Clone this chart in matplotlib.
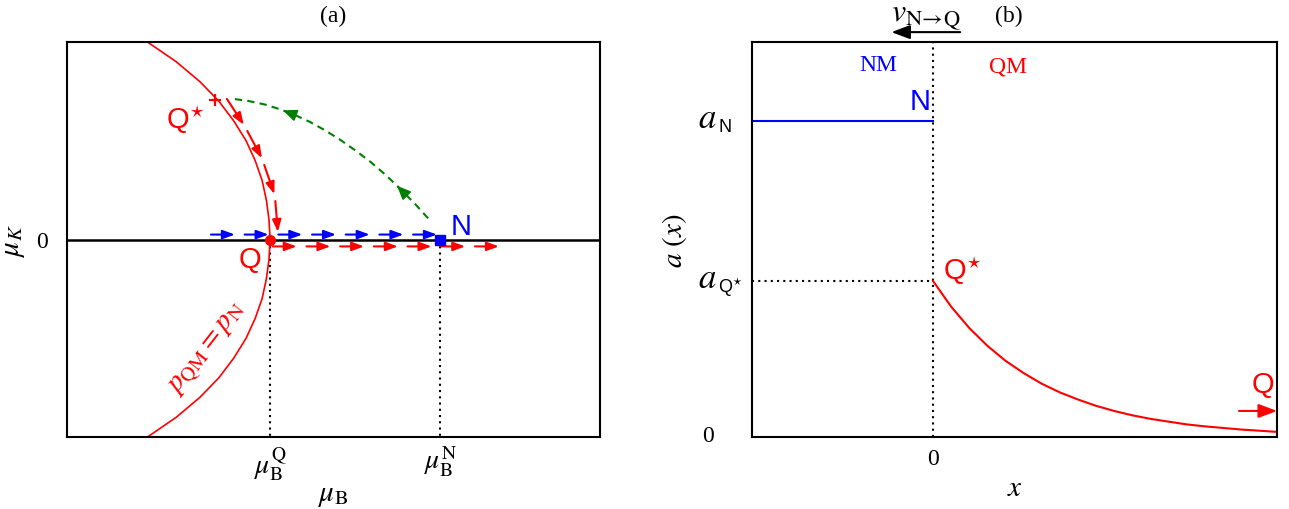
import numpy as np
import matplotlib
matplotlib.use('Agg')
import matplotlib.pyplot as plt

plt.rcParams['font.family'] = ['Liberation Serif', 'DejaVu Serif']
plt.rcParams['mathtext.fontset'] = 'stix'
SANS = ['Liberation Sans', 'DejaVu Sans']

# ---- panel (a): mu_B / mu_K plane ----
MU_B_Q = 0.381
MU_B_N = 0.700
QSTAR = (0.278, 0.707)

# p_QM = p_N line
coex_mu_K = [1.05, 1.0, 0.9, 0.8, 0.7, 0.6, 0.5, 0.4, 0.3, 0.2, 0.1, 0.0,
             -0.1, -0.2, -0.3, -0.4, -0.5, -0.6, -0.7, -0.8, -0.9, -1.0, -1.05]
coex_mu_B = [0.120, 0.151, 0.205, 0.249, 0.285, 0.313, 0.336, 0.353, 0.366, 0.374, 0.379, 0.381,
             0.379, 0.374, 0.366, 0.353, 0.336, 0.313, 0.285, 0.249, 0.205, 0.151, 0.120]

# Q* -> Q flow (red arrows along the line)
flow_mu_B = [0.300, 0.334, 0.366, 0.390, 0.396]
flow_mu_K = [0.712, 0.571, 0.409, 0.222, 0.025]

# N -> Q* path (green dashed)
green_mu_B = [0.315, 0.343, 0.372, 0.400, 0.428, 0.456, 0.484,
              0.512, 0.540, 0.569, 0.597, 0.625, 0.653, 0.681]
green_mu_K = [0.711, 0.700, 0.683, 0.659, 0.630, 0.595, 0.553,
              0.506, 0.453, 0.394, 0.329, 0.257, 0.180, 0.097]

blue_flow_B = [0.270, 0.694]
red_flow_B = [0.386, 0.812]

# ---- panel (b): a(x) profile ----
A_N = 0.80
A_QSTAR = 0.395
decay_x = [0.0, 0.1, 0.2, 0.3, 0.4, 0.5, 0.6, 0.7, 0.8, 0.9, 1.0,
           1.1, 1.2, 1.3, 1.4, 1.5, 1.6, 1.7, 1.8, 1.9]
decay_a = [0.395, 0.330, 0.276, 0.231, 0.193, 0.162, 0.135, 0.113, 0.095, 0.079, 0.066,
           0.055, 0.046, 0.039, 0.032, 0.027, 0.023, 0.019, 0.016, 0.013]

RED = '#ff0000'
BLUE = '#0000ff'
GREEN = '#007f00'


def dashed_arrows(ax, xs, ys, color, dash, gap, lw=1.5):
    """draw a path as a row of short arrows (lengths in pixels)"""
    pts = ax.transData.transform(np.column_stack([xs, ys]))
    seg = np.diff(pts, axis=0)
    cum = np.concatenate([[0], np.cumsum(np.hypot(seg[:, 0], seg[:, 1]))])
    inv = ax.transData.inverted()

    def at(s):
        return inv.transform((np.interp(s, cum, pts[:, 0]), np.interp(s, cum, pts[:, 1])))

    s = 0.0
    while s + dash <= cum[-1] + 0.5:
        ax.annotate('', xy=at(min(s + dash, cum[-1])), xytext=at(s),
                    arrowprops=dict(arrowstyle='-|>,head_length=0.6,head_width=0.22',
                                    color=color, lw=lw, shrinkA=0, shrinkB=0,
                                    mutation_scale=12))
        s += dash + gap


def head(ax, tip, tail, color):
    ax.annotate('', xy=tip, xytext=tail,
                arrowprops=dict(arrowstyle='-|>,head_length=0.7,head_width=0.3',
                                color=color, lw=1.2, shrinkA=0, shrinkB=0,
                                mutation_scale=12))


def ylab(ax, y, sub, dx=-35):
    """a with a sans-serif subscript, placed left of the y axis"""
    kw = dict(xycoords=('axes fraction', 'data'), textcoords='offset pixels',
              annotation_clip=False)
    ax.annotate(r'$a$', xy=(0, y), xytext=(dx, 2), ha='right', va='center',
                fontsize=25, **kw)
    ax.annotate(sub, xy=(0, y), xytext=(dx + 1, -6), ha='left', va='center',
                fontsize=13, family=SANS, **kw)


fig = plt.figure(figsize=(12.89, 5.10), dpi=100)
axa = fig.add_axes([67 / 1289, 72 / 510, 533 / 1289, 395 / 510])
axb = fig.add_axes([752 / 1289, 72 / 510, 525 / 1289, 395 / 510])

for ax in (axa, axb):
    for sp in ax.spines.values():
        sp.set_linewidth(1.5)
    ax.tick_params(length=0, labelsize=17)

# ---------------- (a) ----------------
axa.set_xlim(0, 1)
axa.set_ylim(-1, 1)
axa.axhline(0, color='k', lw=1.8, zorder=1)
axa.plot([MU_B_Q, MU_B_Q], [0, -1], color='k', lw=1.5, ls=(0, (1, 2)))
axa.plot([MU_B_N, MU_B_N], [0, -1], color='k', lw=1.5, ls=(0, (1, 2)))
axa.plot(coex_mu_B, coex_mu_K, color=RED, lw=1.2)
axa.plot(green_mu_B, green_mu_K, color=GREEN, lw=1.5, ls=(0, (3.5, 2.5)))
head(axa, (0.405, 0.654), (0.424, 0.634), GREEN)
head(axa, (0.619, 0.272), (0.632, 0.237), GREEN)

dashed_arrows(axa, flow_mu_B, flow_mu_K, RED, 31, 7)
dashed_arrows(axa, blue_flow_B, [0.025, 0.025], BLUE, 24, 9.7)
dashed_arrows(axa, red_flow_B, [-0.035, -0.035], RED, 24, 9.7)

axa.plot(*QSTAR, marker='+', ms=9, mew=1.6, color=RED, zorder=5)
axa.plot(MU_B_Q, 0, marker='o', ms=7, color=RED, zorder=5)
axa.plot(MU_B_N, 0, marker='s', ms=6.5, color=BLUE, zorder=5)

axa.text(0.259, 0.615, r'Q$^{\star}$', color=RED, fontsize=21, family=SANS,
         ha='right', va='center')
axa.text(0.739, 0.068, 'N', color=BLUE, fontsize=21, family=SANS, ha='center', va='center')
axa.text(0.343, -0.099, 'Q', color=RED, fontsize=21, family=SANS, ha='center', va='center')
axa.text(0.265, -0.554, r'$p_{\rm QM}=p_{\rm N}$', color=RED, fontsize=21,
         rotation=52, ha='center', va='center')

axa.set_xticks([MU_B_Q, MU_B_N])
axa.set_xticklabels([r'$\mu_{\rm B}^{\rm Q}$', r'$\mu_{\rm B}^{\rm N}$'], fontsize=20)
axa.set_yticks([0])
axa.set_yticklabels(['0'])
axa.tick_params(axis='y', pad=14)
axa.tick_params(axis='x', pad=5)
axa.set_xlabel(r'$\mu_{\rm B}$', fontsize=21, labelpad=0)
axa.set_ylabel(r'$\mu_K$', fontsize=21, labelpad=6)
axa.set_title('(a)', fontsize=17, pad=15)

# ---------------- (b) ----------------
axb.set_xlim(-1, 1.9)
axb.set_ylim(0, 1)
axb.plot([0, 0], [0, 1], color='k', lw=1.5, ls=(0, (1, 2)))
axb.plot([-1, 0], [A_QSTAR, A_QSTAR], color='k', lw=1.5, ls=(0, (1, 2)))
axb.plot([-1, 0], [A_N, A_N], color=BLUE, lw=1.5)
axb.plot(decay_x, decay_a, color=RED, lw=1.5)

axb.text(-0.304, 0.944, 'NM', color=BLUE, fontsize=17, ha='center', va='center')
axb.text(0.414, 0.939, 'QM', color=RED, fontsize=17, ha='center', va='center')
axb.text(-0.072, 0.851, 'N', color=BLUE, fontsize=21, family=SANS, ha='center', va='center')
axb.text(0.055, 0.425, r'Q$^{\star}$', color=RED, fontsize=21, family=SANS,
         ha='left', va='center')
axb.text(1.823, 0.134, 'Q', color=RED, fontsize=21, family=SANS, ha='center', va='center')
axb.annotate('', xy=(1.9, 0.066), xytext=(1.69, 0.066), annotation_clip=False,
             arrowprops=dict(arrowstyle='-|>,head_length=0.8,head_width=0.3',
                             color=RED, lw=1.5, shrinkA=0, shrinkB=0, mutation_scale=14))
axb.annotate('', xy=(-0.23, 1.025), xytext=(0.15, 1.025), annotation_clip=False,
             arrowprops=dict(arrowstyle='-|>,head_length=0.8,head_width=0.3',
                             color='k', lw=1.5, shrinkA=0, shrinkB=0, mutation_scale=14))
axb.text(-0.04, 1.062, r'$v_{\rm N\!\rightarrow\! Q}$', fontsize=23, ha='center', va='center')

axb.set_xticks([0])
axb.set_xticklabels(['0'])
axb.set_yticks([0, A_QSTAR, A_N])
axb.set_yticklabels(['', '', ''])
axb.annotate('0', xy=(0, 0), xycoords='axes fraction', xytext=(-44, 1),
             textcoords='offset pixels', ha='center', va='center', fontsize=17)
ylab(axb, A_N, 'N')
ylab(axb, A_QSTAR, r'Q$^{\star}$')
axb.tick_params(axis='x', pad=8)
axb.set_xlabel(r'$x$', fontsize=21, labelpad=4)
axb.set_ylabel(r'$a\ (x)$', fontsize=21, labelpad=42)
axb.set_title('(b)', fontsize=17, pad=15, x=0.49)

fig.savefig('out.png', dpi=100)
